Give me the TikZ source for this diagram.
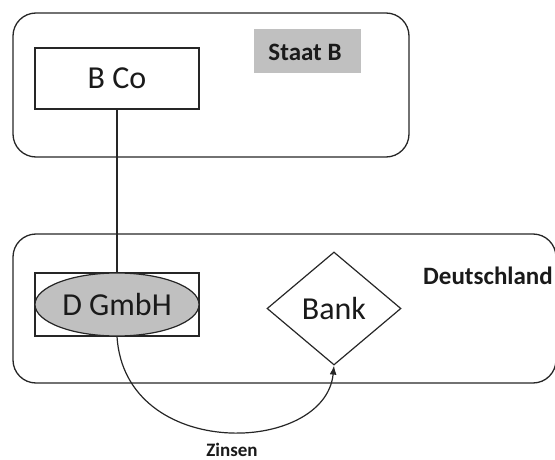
\documentclass[tikz,border=0pt]{standalone}
\usepackage{fontspec}
\setmainfont{Carlito}
\usetikzlibrary{shapes.geometric,arrows.meta}
\definecolor{lineC}{HTML}{262626}
\definecolor{fillG}{HTML}{C0C0C0}
\definecolor{textC}{HTML}{1A1A1A}
\tikzset{
  container/.style={draw=lineC, line width=1.3pt, rounded corners=23pt, inner sep=0pt},
  entity/.style={draw=lineC, line width=1.2pt, inner sep=0pt, text=textC, font=\fontsize{32}{38}\selectfont},
  label/.style={inner sep=0pt, text=textC, font=\bfseries\fontsize{25}{30}\selectfont},
  conn/.style={draw=lineC, line width=1.2pt}
}
\begin{document}
\begin{tikzpicture}[x=1pt,y=-1pt]
\useasboundingbox (0,0) rectangle (555,460);
% containers
\node[container, minimum width=396pt, minimum height=144pt] (staatb) at (211,85) {};
\node[container, minimum width=543pt, minimum height=149pt] (de) at (284.5,308.5) {};
% labels
\node[fill=fillG, minimum width=107pt, minimum height=44pt, inner sep=0pt] (sbbox) at (307.5,51) {};
\node[label] (sblabel) at (305,52) {Staat B};
\node[label] (delabel) at (488,276) {Deutschland};
% entities
\node[entity, minimum width=164pt, minimum height=61pt] (bco) at (117,78.5) {B Co};
\node[entity, minimum width=164pt, minimum height=63pt] (dgbox) at (117,304.5) {};
\node[entity, ellipse, fill=fillG, minimum width=164pt, minimum height=63pt] (dg) at (117,304.5) {D GmbH};
\node[entity, diamond, aspect=1.186, minimum width=134pt, minimum height=113pt] (bank) at (334,308.5) {Bank};
% connectors
\draw[conn] (bco.south) -- (dg.north);
\draw[conn, -{Latex[length=9pt,width=7pt]}] (dg.south) .. controls (125,462) and (325,455) .. (bank.south);
\node[label, font=\bfseries\fontsize{19}{23}\selectfont] (zinsen) at (232,450) {Zinsen};
\end{tikzpicture}
\end{document}
